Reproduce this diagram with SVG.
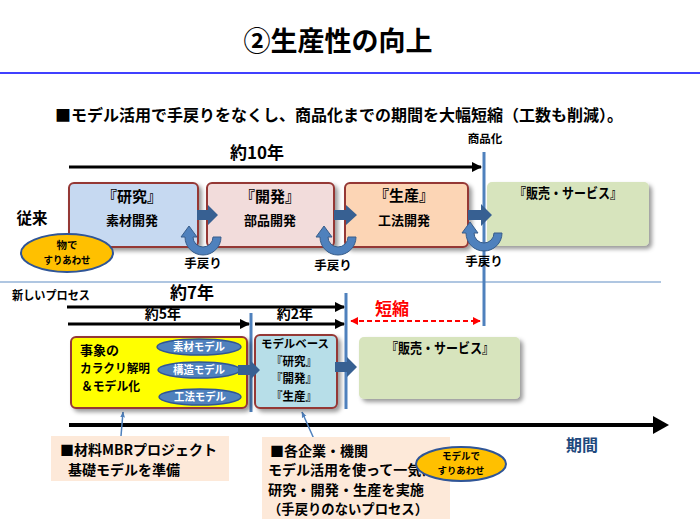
<svg xmlns="http://www.w3.org/2000/svg" width="700" height="519" viewBox="0 0 700 519">
<defs>
<style>
text { font-family: "Noto Sans CJK JP", "Noto Sans", sans-serif; font-weight: bold; fill: #000; }
.c { text-anchor: middle; }
.box { stroke: #953735; stroke-width: 2; }
.vline { stroke: #4f81bd; stroke-width: 3; }
.tl { stroke: #000; stroke-width: 3; fill: none; marker-end: url(#ah); }
.blk { fill: #376092; }
.uturn { fill: #4f81bd; stroke: #385d8a; stroke-width: 1; }
.ell { fill: #ffc000; stroke: #2f5597; stroke-width: 2; }
.mell { fill: #4f81bd; stroke: #2f5597; stroke-width: 1.5; }
.mtxt { fill: #fff; font-size: 11px; text-anchor: middle; }
.call { fill: #fde9d9; }
.cl { stroke: #4f81bd; stroke-width: 1.5; fill: none; marker-end: url(#sa); }
</style>
<filter id="sh" x="-10%" y="-10%" width="130%" height="140%">
<feDropShadow dx="3" dy="3" stdDeviation="2" flood-color="#000" flood-opacity="0.4"/>
</filter>
<marker id="ah" viewBox="0 0 10 10" refX="9" refY="5" markerWidth="3.5" markerHeight="3.5" orient="auto">
<path d="M0,0 L10,5 L0,10 z" fill="#000"/>
</marker>
<marker id="ra" viewBox="0 0 10 10" refX="9" refY="5" markerWidth="4" markerHeight="4" orient="auto-start-reverse">
<path d="M0,0 L10,5 L0,10 z" fill="#ff0000"/>
</marker>
<marker id="sa" viewBox="0 0 10 10" refX="9" refY="5" markerWidth="4" markerHeight="4" orient="auto">
<path d="M0,1 L10,5 L0,9 z" fill="#4f81bd"/>
</marker>
</defs>
<rect width="700" height="519" fill="#fff"/>

<g id="title">
<text x="338" y="51" class="c" font-size="27">②生産性の向上</text>
<line x1="0" y1="73" x2="700" y2="73" stroke="#0000ff" stroke-width="1.5"/>
<text x="55" y="121" font-size="16">■モデル活用で手戻りをなくし、商品化までの期間を大幅短縮（工数も削減）。</text>
</g>

<g id="labels">
<text x="257" y="159" class="c" font-size="17">約10年</text>
<text x="485" y="143" class="c" font-size="11.5">商品化</text>
<text x="32" y="224" class="c" font-size="15.5">従来</text>
<text x="12" y="300" font-size="12" textLength="78" lengthAdjust="spacingAndGlyphs">新しいプロセス</text>
<text x="192" y="299" class="c" font-size="17">約7年</text>
<text x="163" y="319" class="c" font-size="14">約5年</text>
<text x="295" y="319" class="c" font-size="14">約2年</text>
<text x="392" y="315" class="c" font-size="17" style="fill:#ff0000">短縮</text>
<text x="582" y="451" class="c" font-size="16" style="fill:#1f497d">期間</text>
<line x1="0" y1="282" x2="661" y2="282" stroke="#95b3d7" stroke-width="1.5"/>
</g>

<g id="connectors">
<line class="vline" x1="484" y1="152" x2="484" y2="326"/>
<line class="vline" x1="251" y1="313" x2="251" y2="412"/>
<line class="vline" x1="346" y1="293" x2="346" y2="409"/>
<line class="tl" x1="69" y1="167" x2="481" y2="167"/>
<line class="tl" x1="67" y1="307" x2="344" y2="307"/>
<line class="tl" x1="68" y1="324" x2="249" y2="324"/>
<line class="tl" x1="255" y1="324" x2="344" y2="324"/>
<line x1="351" y1="321" x2="480" y2="321" stroke="#ff0000" stroke-width="2" stroke-dasharray="5,3" marker-start="url(#ra)" marker-end="url(#ra)"/>
<line x1="69" y1="425" x2="655" y2="425" stroke="#000" stroke-width="4"/>
<polygon points="653,416 669,425 653,434" fill="#000"/>
<line class="cl" x1="121" y1="436" x2="123" y2="412"/>
<line class="cl" x1="314" y1="439" x2="302" y2="412"/>
</g>

<g id="box-kenkyu">
<rect class="box" x="69" y="183" width="129" height="64" rx="5" fill="#c6d9f1" filter="url(#sh)"/>
<text x="132" y="202" class="c" font-size="15">『研究』</text>
<text x="132" y="225" class="c" font-size="13">素材開発</text>
</g>
<g id="box-kaihatsu">
<rect class="box" x="207" y="183" width="127" height="64" rx="5" fill="#f2dcdb" filter="url(#sh)"/>
<text x="270" y="202" class="c" font-size="15">『開発』</text>
<text x="270" y="225" class="c" font-size="13">部品開発</text>
</g>
<g id="box-seisan">
<rect class="box" x="345" y="183" width="123" height="64" rx="5" fill="#fcd5b5" filter="url(#sh)"/>
<text x="404" y="201" class="c" font-size="15">『生産』</text>
<text x="404" y="225" class="c" font-size="13">工法開発</text>
</g>
<g id="box-hanbai1">
<rect x="487" y="182" width="162" height="64" rx="5" fill="#d7e4bd" filter="url(#sh)"/>
<text x="568" y="198" class="c" font-size="14" textLength="108" lengthAdjust="spacingAndGlyphs">『販売・サービス』</text>
</g>

<g id="arrows-old">
<polygon class="blk" points="197,210 208,210 208,205 218,215 208,225 208,220 197,220"/>
<polygon class="blk" points="334,210 346,210 346,205 357,215 346,225 346,220 334,220"/>
<polygon class="blk" points="468,210 481,210 481,204 492,215 481,226 481,220 468,220"/>
<path class="uturn" d="M221,237 A18,18 0 0 1 185,237 L181,237 L189,226 L197,237 L193,237 A10,10 0 0 0 213,237 Z"/>
<path class="uturn" d="M356,237 A18,18 0 0 1 320,237 L316,237 L324,226 L332,237 L328,237 A10,10 0 0 0 348,237 Z"/>
<path class="uturn" d="M502,233 A18,18 0 0 1 466,233 L462,233 L470,222 L478,233 L474,233 A10,10 0 0 0 494,233 Z"/>
<text x="203" y="268" class="c" font-size="12.5">手戻り</text>
<text x="333" y="270" class="c" font-size="12.5">手戻り</text>
<text x="484" y="266" class="c" font-size="12.5">手戻り</text>
</g>

<g id="ell-mono">
<ellipse class="ell" cx="67" cy="253" rx="46" ry="19"/>
<text x="67" y="249" class="c" font-size="10.5">物で</text>
<text x="67" y="264" class="c" font-size="10" textLength="47" lengthAdjust="spacingAndGlyphs">すりあわせ</text>
</g>

<g id="box-karakuri">
<rect class="box" x="71" y="337" width="176" height="71" rx="5" fill="#ffff00" filter="url(#sh)"/>
<text x="80" y="355" font-size="13">事象の</text>
<text x="80" y="373" font-size="12.5" textLength="70" lengthAdjust="spacingAndGlyphs">カラクリ解明</text>
<text x="81" y="391" font-size="12.5" textLength="59" lengthAdjust="spacingAndGlyphs">＆モデル化</text>
</g>
<g id="model-sozai">
<ellipse class="mell" cx="199" cy="347" rx="42" ry="8"/>
<text x="199" y="351" class="mtxt" textLength="52" lengthAdjust="spacingAndGlyphs">素材モデル</text>
</g>
<g id="model-kozo">
<ellipse class="mell" cx="199" cy="370" rx="41" ry="8"/>
<text x="199" y="374" class="mtxt" textLength="52" lengthAdjust="spacingAndGlyphs">構造モデル</text>
</g>
<g id="model-koho">
<ellipse class="mell" cx="200" cy="397" rx="41" ry="8"/>
<text x="200" y="401" class="mtxt" textLength="52" lengthAdjust="spacingAndGlyphs">工法モデル</text>
</g>

<g id="box-modelbase">
<rect class="box" x="255" y="335" width="82" height="73" rx="5" fill="#b7dee8" filter="url(#sh)"/>
<text x="295" y="348" class="c" font-size="11.5" textLength="68" lengthAdjust="spacingAndGlyphs">モデルベース</text>
<text x="294" y="365.5" class="c" font-size="12" textLength="46" lengthAdjust="spacingAndGlyphs">『研究』</text>
<text x="294" y="383" class="c" font-size="12" textLength="46" lengthAdjust="spacingAndGlyphs">『開発』</text>
<text x="294" y="400.5" class="c" font-size="12" textLength="46" lengthAdjust="spacingAndGlyphs">『生産』</text>
</g>

<g id="box-hanbai2">
<rect x="359" y="337" width="161" height="62" rx="5" fill="#d7e4bd" filter="url(#sh)"/>
<text x="440" y="353" class="c" font-size="14" textLength="108" lengthAdjust="spacingAndGlyphs">『販売・サービス』</text>
</g>

<g id="arrows-new">
<polygon class="blk" points="238,365 250,365 250,360 260,370 250,380 250,375 238,375"/>
<polygon class="blk" points="335,362 347,362 347,357 357,367 347,377 347,372 335,372"/>
</g>

<g id="callout-mbr">
<rect class="call" x="51" y="436" width="178" height="45"/>
<text x="60" y="455" font-size="14">■材料MBRプロジェクト</text>
<text x="68" y="474.5" font-size="14">基礎モデルを準備</text>
</g>

<g id="callout-kigyo">
<rect class="call" x="262" y="437" width="188" height="82"/>
<text x="270" y="455.5" font-size="14">■各企業・機関</text>
<text x="268" y="475" font-size="14">モデル活用を使って一気に</text>
<text x="268" y="494.5" font-size="14" textLength="156" lengthAdjust="spacingAndGlyphs">研究・開発・生産を実施</text>
<text x="268" y="514" font-size="13.5" textLength="160" lengthAdjust="spacingAndGlyphs">（手戻りのないプロセス）</text>
</g>

<g id="ell-model">
<ellipse class="ell" cx="461" cy="464" rx="45" ry="17"/>
<text x="461" y="460" class="c" font-size="10" textLength="38" lengthAdjust="spacingAndGlyphs">モデルで</text>
<text x="461" y="474" class="c" font-size="9.5" textLength="47" lengthAdjust="spacingAndGlyphs">すりあわせ</text>
</g>
</svg>
